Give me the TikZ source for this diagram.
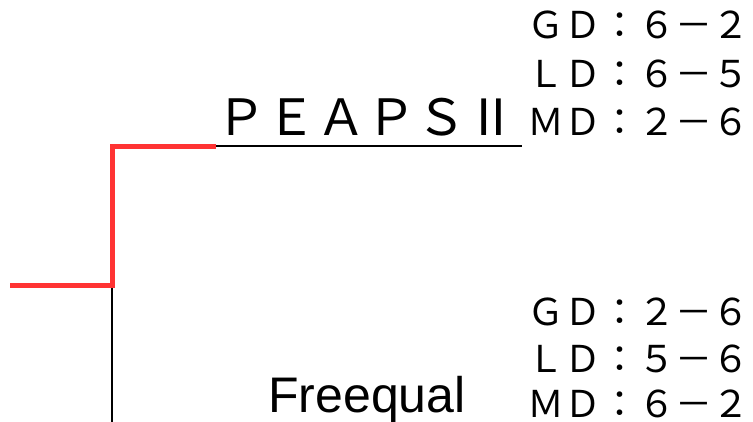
\documentclass[tikz,border=0pt]{standalone}
\usepackage{fontspec}
\setmainfont{Liberation Sans}
\newfontfamily\jpfont{Noto Sans CJK JP}
\tikzset{
  winner/.style={draw=red!80!white,line width=5bp,line cap=rect},
  loser/.style={draw=black,line width=1.3bp},
  teamname/.style={inner sep=0pt,anchor=base west},
  scoreline/.style={inner sep=0pt,anchor=base east,font=\jpfont\fontsize{37bp}{37bp}\selectfont},
}
\begin{document}
\begin{tikzpicture}[>=latex,line join=bevel,]
\useasboundingbox (0bp,0bp) rectangle (753bp,-422bp);
%%
\coordinate (final_in) at (12bp,-285bp);
  \coordinate (fork) at (112bp,-285bp);
  \coordinate (fork_top) at (112bp,-146bp);
  \coordinate (top_red) at (213bp,-146bp);
  \coordinate (top_end) at (522bp,-146bp);
  \coordinate (fork_bottom) at (112bp,-422bp);
%
\node (team_top) at (216bp,-135bp) [teamname,font=\jpfont\fontsize{50bp}{50bp}\selectfont] {ＰＥＡＰＳⅡ};
  \node (team_bottom) at (268bp,-412bp) [teamname,font=\fontsize{50bp}{50bp}\selectfont] {Freequal};
%
\node (score_gd_top) at (750bp,-38bp) [scoreline] {ＧＤ：６－２};
  \node (score_ld_top) at (750bp,-87bp) [scoreline] {ＬＤ：６－５};
  \node (score_md_top) at (750bp,-135bp) [scoreline] {ＭＤ：２－６};
  \node (score_gd_bottom) at (750bp,-325bp) [scoreline] {ＧＤ：２－６};
  \node (score_ld_bottom) at (750bp,-372bp) [scoreline] {ＬＤ：５－６};
  \node (score_md_bottom) at (750bp,-417bp) [scoreline] {ＭＤ：６－２};
%
\draw [loser] (top_red) -- (top_end);
  \draw [loser] (fork) -- (fork_bottom);
  \draw [winner,line join=miter] (final_in) -- (fork) -- (fork_top) -- (top_red);
%
\end{tikzpicture}
\end{document}
